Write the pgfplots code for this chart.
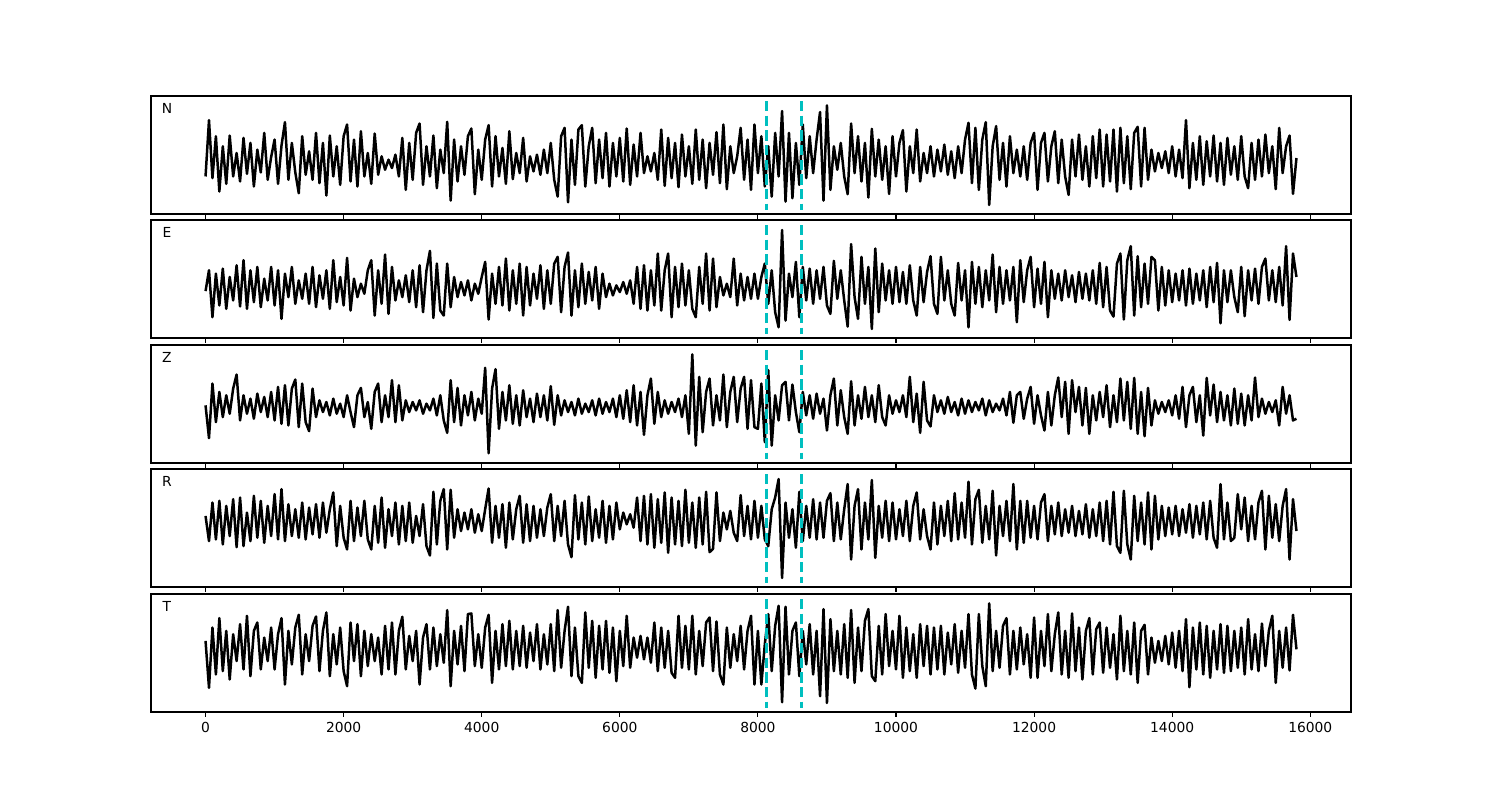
\documentclass[border=0pt]{standalone}
\usepackage{fontspec}
\setmainfont{DejaVu Sans}
\usepackage{pgfplots}
\pgfplotsset{compat=1.18}
\definecolor{mplcyan}{rgb}{0,0.75,0.75}
\pgfplotsset{
 panel/.style={scale only axis, width=12in, height=1.18in, anchor=north west,
  xmin=-790, xmax=16590, ymin=0, ymax=352, y dir=reverse,
  ytick=\empty, xtick={0,2000,4000,6000,8000,10000,12000,14000,16000},
  xtick pos=left, xticklabel pos=left, tick align=outside,
  major tick length=3.5pt,
  every tick/.style={black, line width=0.8pt},
  axis line style={line width=0.8pt},
  scaled x ticks=false,
  /pgf/number format/assume math mode=true,
  /pgf/number format/set thousands separator={},
  clip=true},
 trace/.style={black, line width=1.8pt, line join=round, mark=none},
 vl/.style={mplcyan, line width=2pt, dash pattern=on 7.4pt off 3.2pt, mark=none},
}
\begin{document}
\begin{tikzpicture}
\useasboundingbox (0,0) rectangle (15in,-8in);
% ---------------- N ----------------
\begin{axis}[panel, at={(1.51in,-0.96in)}, xticklabel=\empty]
\addplot[trace] coordinates {
(0,240)(50,72)(100,245)(150,120)(200,285)(250,150)(300,262)(350,118)(400,240)(450,170)(500,255)(550,125)(600,232)(650,140)(700,270)(750,160)(800,228)(850,110)(900,250)(950,182)
(1000,130)(1050,262)(1100,148)(1150,78)(1200,250)(1250,140)(1300,228)(1350,290)(1400,120)(1450,235)(1500,165)(1550,250)(1600,110)(1650,260)(1700,140)(1750,297)(1800,118)(1850,240)(1900,150)(1950,265)
(2000,120)(2050,85)(2100,255)(2150,130)(2200,270)(2250,105)(2300,240)(2350,170)(2400,262)(2450,112)(2500,235)(2550,180)(2600,220)(2650,190)(2700,215)(2750,175)(2800,240)(2850,125)(2900,280)(2950,140)
(3000,250)(3050,110)(3100,82)(3150,265)(3200,150)(3250,240)(3300,118)(3350,275)(3400,160)(3450,230)(3500,77)(3550,312)(3600,130)(3650,255)(3700,150)(3750,235)(3800,120)(3850,97)(3900,293)(3950,160)
(4000,250)(4050,130)(4100,87)(4150,270)(4200,120)(4250,240)(4300,155)(4350,262)(4400,105)(4450,248)(4500,170)(4550,230)(4600,125)(4650,255)(4700,180)(4750,225)(4800,175)(4850,235)(4900,160)(4950,230)
(5000,140)(5050,250)(5100,300)(5150,120)(5200,95)(5250,317)(5300,130)(5350,265)(5400,100)(5450,87)(5500,270)(5550,150)(5600,95)(5650,260)(5700,130)(5750,245)(5800,110)(5850,270)(5900,140)(5950,240)
(6000,125)(6050,255)(6100,97)(6150,265)(6200,145)(6250,240)(6300,110)(6350,230)(6400,180)(6450,225)(6500,170)(6550,250)(6600,100)(6650,268)(6700,125)(6750,245)(6800,140)(6850,272)(6900,115)(6950,240)
(7000,150)(7050,262)(7100,100)(7150,250)(7200,130)(7250,275)(7300,140)(7350,235)(7400,108)(7450,260)(7500,85)(7550,278)(7600,150)(7650,230)(7700,180)(7750,95)(7800,250)(7850,130)(7900,280)(7950,85)
(8000,230)(8050,120)(8100,270)(8150,150)(8200,300)(8250,110)(8300,240)(8350,45)(8400,315)(8450,110)(8500,305)(8550,140)(8600,265)(8650,85)(8700,245)(8750,120)(8800,230)(8850,130)(8900,48)(8950,312)
(9000,28)(9050,280)(9100,150)(9150,220)(9200,140)(9250,240)(9300,293)(9350,82)(9400,230)(9450,120)(9500,255)(9550,140)(9600,303)(9650,98)(9700,240)(9750,130)(9800,250)(9850,150)(9900,292)(9950,120)
(10000,240)(10050,140)(10100,102)(10150,285)(10200,150)(10250,230)(10300,100)(10350,255)(10400,170)(10450,230)(10500,150)(10550,240)(10600,160)(10650,225)(10700,145)(10750,235)(10800,165)(10850,245)(10900,150)(10950,230)
(11000,130)(11050,80)(11100,260)(11150,95)(11200,280)(11250,130)(11300,78)(11350,325)(11400,150)(11450,90)(11500,250)(11550,140)(11600,270)(11650,120)(11700,230)(11750,160)(11800,240)(11850,150)(11900,250)(11950,140)
(12000,110)(12050,280)(12100,140)(12150,110)(12200,255)(12250,150)(12300,105)(12350,260)(12400,130)(12450,240)(12500,295)(12550,130)(12600,240)(12650,115)(12700,250)(12750,150)(12800,270)(12850,120)(12900,245)(12950,100)
(13000,270)(13050,115)(13100,255)(13150,100)(13200,285)(13250,95)(13300,260)(13350,120)(13400,278)(13450,110)(13500,92)(13550,270)(13600,95)(13650,250)(13700,160)(13750,225)(13800,170)(13850,215)(13900,165)(13950,230)
(14000,150)(14050,240)(14100,160)(14150,245)(14200,72)(14250,275)(14300,140)(14350,250)(14400,120)(14450,265)(14500,135)(14550,240)(14600,118)(14650,255)(14700,140)(14750,265)(14800,125)(14850,235)(14900,150)(14950,250)
(15000,120)(15050,240)(15100,275)(15150,140)(15200,250)(15250,130)(15300,240)(15350,115)(15400,230)(15450,150)(15500,278)(15550,95)(15600,230)(15650,150)(15700,118)(15750,292)(15800,185)
};
\addplot[vl] coordinates {(8125,15)(8125,340)};
\addplot[vl] coordinates {(8635,15)(8635,340)};
\node at (axis description cs:0.0133,0.898) {N};
\end{axis}
% ---------------- E ----------------
\begin{axis}[panel, at={(1.51in,-2.20in)}, xticklabel=\empty]
\addplot[trace] coordinates {
(0,212)(50,150)(100,290)(150,160)(200,255)(250,145)(300,265)(350,170)(400,240)(450,135)(500,258)(550,120)(600,265)(650,150)(700,245)(750,140)(800,260)(850,175)(900,240)(950,140)
(1000,255)(1050,150)(1100,295)(1150,160)(1200,230)(1250,140)(1300,250)(1350,180)(1400,235)(1450,160)(1500,250)(1550,140)(1600,260)(1650,165)(1700,235)(1750,150)(1800,265)(1850,120)(1900,245)(1950,170)
(2000,255)(2050,113)(2100,270)(2150,175)(2200,230)(2250,190)(2300,220)(2350,150)(2400,120)(2450,285)(2500,150)(2550,250)(2600,103)(2650,280)(2700,140)(2750,240)(2800,180)(2850,230)(2900,165)(2950,245)
(3000,150)(3050,260)(3100,135)(3150,275)(3200,150)(3250,92)(3300,292)(3350,130)(3400,270)(3450,285)(3500,130)(3550,260)(3600,170)(3650,230)(3700,185)(3750,225)(3800,180)(3850,240)(3900,190)(3950,220)
(4000,170)(4050,125)(4100,297)(4150,160)(4200,250)(4250,140)(4300,255)(4350,115)(4400,270)(4450,150)(4500,250)(4550,130)(4600,285)(4650,140)(4700,255)(4750,160)(4800,235)(4850,135)(4900,265)(4950,150)
(5000,250)(5050,130)(5100,110)(5150,275)(5200,140)(5250,97)(5300,285)(5350,150)(5400,260)(5450,130)(5500,250)(5550,155)(5600,240)(5650,140)(5700,265)(5750,160)(5800,230)(5850,190)(5900,225)(5950,195)
(6000,215)(6050,185)(6100,220)(6150,180)(6200,250)(6250,140)(6300,265)(6350,135)(6400,270)(6450,150)(6500,255)(6550,100)(6600,270)(6650,150)(6700,100)(6750,290)(6800,140)(6850,260)(6900,130)(6950,255)
(7000,150)(7050,265)(7100,290)(7150,140)(7200,250)(7250,100)(7300,270)(7350,115)(7400,260)(7450,170)(7500,225)(7550,190)(7600,230)(7650,115)(7700,255)(7750,160)(7800,240)(7850,170)(7900,235)(7950,160)
(8000,235)(8050,170)(8100,130)(8150,250)(8200,150)(8250,275)(8300,320)(8350,30)(8400,300)(8450,160)(8500,230)(8550,125)(8600,290)(8650,140)(8700,240)(8750,145)(8800,250)(8850,150)(8900,235)(8950,140)
(9000,255)(9050,280)(9100,122)(9150,235)(9200,150)(9250,240)(9300,318)(9350,72)(9400,230)(9450,295)(9500,110)(9550,250)(9600,140)(9650,325)(9700,85)(9750,275)(9800,130)(9850,240)(9900,150)(9950,250)
(10000,140)(10050,245)(10100,155)(10150,250)(10200,135)(10250,240)(10300,285)(10350,140)(10400,245)(10450,155)(10500,108)(10550,250)(10600,280)(10650,110)(10700,240)(10750,150)(10800,250)(10850,285)(10900,128)(10950,240)
(11000,150)(11050,320)(11100,125)(11150,250)(11200,140)(11250,260)(11300,150)(11350,240)(11400,103)(11450,275)(11500,140)(11550,250)(11600,150)(11650,240)(11700,140)(11750,305)(11800,120)(11850,245)(11900,150)(11950,110)
(12000,260)(12050,145)(12100,250)(12150,125)(12200,290)(12250,150)(12300,235)(12350,160)(12400,240)(12450,150)(12500,230)(12550,165)(12600,245)(12650,155)(12700,235)(12750,160)(12800,240)(12850,150)(12900,250)(12950,128)
(13000,260)(13050,140)(13100,270)(13150,288)(13200,130)(13250,100)(13300,297)(13350,120)(13400,78)(13450,285)(13500,108)(13550,260)(13600,130)(13650,250)(13700,110)(13750,120)(13800,270)(13850,140)(13900,255)(13950,150)
(14000,245)(14050,160)(14100,240)(14150,150)(14200,255)(14250,145)(14300,250)(14350,160)(14400,240)(14450,150)(14500,260)(14550,140)(14600,245)(14650,128)(14700,308)(14750,150)(14800,245)(14850,150)(14900,230)(14950,275)
(15000,140)(15050,287)(15100,150)(15150,240)(15200,145)(15250,250)(15300,140)(15350,115)(15400,240)(15450,150)(15500,245)(15550,140)(15600,255)(15650,78)(15700,298)(15750,100)(15800,170)
};
\addplot[vl] coordinates {(8125,15)(8125,340)};
\addplot[vl] coordinates {(8635,15)(8635,340)};
\node at (axis description cs:0.0133,0.898) {E};
\end{axis}
% ---------------- Z ----------------
\begin{axis}[panel, at={(1.51in,-3.45in)}, xticklabel=\empty]
\addplot[trace] coordinates {
(0,180)(50,278)(100,115)(150,230)(200,140)(250,215)(300,150)(350,205)(400,130)(450,88)(500,225)(550,150)(600,205)(650,160)(700,220)(750,145)(800,200)(850,155)(900,215)(950,140)
(1000,225)(1050,125)(1100,235)(1150,120)(1200,240)(1250,130)(1300,103)(1350,245)(1400,115)(1450,230)(1500,257)(1550,130)(1600,215)(1650,165)(1700,200)(1750,170)(1800,210)(1850,160)(1900,205)(1950,175)
(2000,215)(2050,150)(2100,200)(2150,245)(2200,150)(2250,128)(2300,215)(2350,170)(2400,250)(2450,140)(2500,115)(2550,230)(2600,150)(2650,215)(2700,105)(2750,230)(2800,120)(2850,225)(2900,165)(2950,200)
(3000,170)(3050,195)(3100,165)(3150,205)(3200,175)(3250,195)(3300,160)(3350,210)(3400,150)(3450,225)(3500,262)(3550,105)(3600,230)(3650,128)(3700,240)(3750,150)(3800,210)(3850,140)(3900,225)(3950,160)
(4000,205)(4050,68)(4100,323)(4150,130)(4200,72)(4250,250)(4300,140)(4350,225)(4400,120)(4450,235)(4500,150)(4550,240)(4600,135)(4650,215)(4700,160)(4750,230)(4800,145)(4850,215)(4900,150)(4950,225)
(5000,123)(5050,238)(5100,150)(5150,210)(5200,165)(5250,200)(5300,170)(5350,210)(5400,160)(5450,205)(5500,175)(5550,200)(5600,165)(5650,210)(5700,160)(5750,205)(5800,170)(5850,200)(5900,160)(5950,215)
(6000,150)(6050,220)(6100,135)(6150,230)(6200,120)(6250,240)(6300,140)(6350,268)(6400,150)(6450,100)(6500,235)(6550,140)(6600,215)(6650,165)(6700,205)(6750,170)(6800,200)(6850,160)(6900,215)(6950,150)
(7000,265)(7050,28)(7100,300)(7150,95)(7200,260)(7250,140)(7300,100)(7350,240)(7400,150)(7450,225)(7500,88)(7550,245)(7600,140)(7650,95)(7700,230)(7750,130)(7800,95)(7850,250)(7900,105)(7950,245)
(8000,250)(8050,115)(8100,290)(8150,75)(8200,300)(8250,150)(8300,225)(8350,120)(8400,110)(8450,225)(8500,118)(8550,200)(8600,260)(8650,140)(8700,210)(8750,150)(8800,220)(8850,145)(8900,205)(8950,160)
(9000,255)(9050,150)(9100,100)(9150,240)(9200,135)(9250,215)(9300,265)(9350,108)(9400,240)(9450,150)(9500,220)(9550,125)(9600,215)(9650,150)(9700,230)(9750,120)(9800,215)(9850,240)(9900,150)(9950,205)
(10000,165)(10050,200)(10100,150)(10150,215)(10200,95)(10250,230)(10300,145)(10350,262)(10400,110)(10450,225)(10500,243)(10550,150)(10600,200)(10650,165)(10700,205)(10750,155)(10800,200)(10850,170)(10900,210)(10950,160)
(11000,205)(11050,165)(11100,200)(11150,170)(11200,195)(11250,160)(11300,210)(11350,165)(11400,200)(11450,175)(11500,195)(11550,160)(11600,210)(11650,140)(11700,232)(11750,150)(11800,140)(11850,220)(11900,160)(11950,125)
(12000,235)(12050,150)(12100,210)(12150,255)(12200,140)(12250,240)(12300,150)(12350,97)(12400,215)(12450,110)(12500,265)(12550,105)(12600,200)(12650,125)(12700,240)(12750,128)(12800,265)(12850,150)(12900,225)(12950,140)
(13000,215)(13050,120)(13100,245)(13150,150)(13200,230)(13250,100)(13300,225)(13350,110)(13400,250)(13450,98)(13500,265)(13550,140)(13600,272)(13650,128)(13700,240)(13750,165)(13800,205)(13850,170)(13900,200)(13950,165)
(14000,210)(14050,150)(14100,220)(14150,125)(14200,245)(14250,150)(14300,125)(14350,230)(14400,150)(14450,270)(14500,98)(14550,210)(14600,118)(14650,230)(14700,140)(14750,225)(14800,150)(14850,240)(14900,130)(14950,235)
(15000,145)(15050,240)(15100,150)(15150,225)(15200,97)(15250,215)(15300,160)(15350,205)(15400,170)(15450,200)(15500,165)(15550,240)(15600,125)(15650,205)(15700,150)(15750,225)(15800,220)
};
\addplot[vl] coordinates {(8125,15)(8125,340)};
\addplot[vl] coordinates {(8635,15)(8635,340)};
\node at (axis description cs:0.0133,0.898) {Z};
\end{axis}
% ---------------- R ----------------
\begin{axis}[panel, at={(1.51in,-4.69in)}, xticklabel=\empty]
\addplot[trace] coordinates {
(0,140)(50,215)(100,100)(150,210)(200,95)(250,225)(300,110)(350,200)(400,90)(450,233)(500,85)(550,230)(600,130)(650,215)(700,80)(750,205)(800,95)(850,220)(900,110)(950,200)
(1000,75)(1050,210)(1100,60)(1150,215)(1200,105)(1250,200)(1300,120)(1350,205)(1400,100)(1450,210)(1500,115)(1550,195)(1600,105)(1650,205)(1700,100)(1750,190)(1800,120)(1850,70)(1900,230)(1950,110)
(2000,205)(2050,240)(2100,95)(2150,215)(2200,115)(2250,200)(2300,95)(2350,210)(2400,240)(2450,110)(2500,220)(2550,85)(2600,235)(2650,120)(2700,200)(2750,100)(2800,225)(2850,110)(2900,215)(2950,100)
(3000,220)(3050,140)(3100,200)(3150,105)(3200,230)(3250,258)(3300,68)(3350,225)(3400,95)(3450,60)(3500,240)(3550,62)(3600,205)(3650,120)(3700,185)(3750,130)(3800,180)(3850,120)(3900,190)(3950,135)
(4000,185)(4050,120)(4100,58)(4150,220)(4200,110)(4250,205)(4300,105)(4350,235)(4400,100)(4450,210)(4500,120)(4550,80)(4600,220)(4650,105)(4700,215)(4750,110)(4800,205)(4850,120)(4900,200)(4950,115)
(5000,75)(5050,215)(5100,110)(5150,200)(5200,95)(5250,225)(5300,263)(5350,78)(5400,210)(5450,100)(5500,225)(5550,82)(5600,215)(5650,120)(5700,205)(5750,95)(5800,220)(5850,110)(5900,210)(5950,100)
(6000,180)(6050,130)(6100,165)(6150,135)(6200,175)(6250,85)(6300,215)(6350,80)(6400,225)(6450,75)(6500,235)(6550,90)(6600,220)(6650,70)(6700,250)(6750,85)(6800,225)(6850,95)(6900,230)(6950,62)
(7000,220)(7050,100)(7100,235)(7150,85)(7200,225)(7250,68)(7300,248)(7350,238)(7400,70)(7450,215)(7500,130)(7550,180)(7600,125)(7650,190)(7700,215)(7750,78)(7800,200)(7850,110)(7900,210)(7950,95)
(8000,205)(8050,110)(8100,210)(8150,230)(8200,120)(8250,85)(8300,30)(8350,325)(8400,100)(8450,205)(8500,120)(8550,235)(8600,68)(8650,215)(8700,110)(8750,205)(8800,90)(8850,210)(8900,100)(8950,205)
(9000,95)(9050,72)(9100,215)(9150,100)(9200,210)(9250,120)(9300,45)(9350,270)(9400,110)(9450,60)(9500,240)(9550,100)(9600,210)(9650,33)(9700,265)(9750,110)(9800,205)(9850,95)(9900,215)(9950,100)
(10000,210)(10050,120)(10100,200)(10150,95)(10200,215)(10250,110)(10300,70)(10350,210)(10400,120)(10450,200)(10500,240)(10550,100)(10600,225)(10650,110)(10700,200)(10750,95)(10800,215)(10850,72)(10900,210)(10950,100)
(11000,205)(11050,38)(11100,225)(11150,90)(11200,62)(11250,220)(11300,110)(11350,210)(11400,65)(11450,258)(11500,110)(11550,200)(11600,95)(11650,215)(11700,45)(11750,240)(11800,95)(11850,220)(11900,95)(11950,205)
(12000,110)(12050,210)(12100,100)(12150,75)(12200,215)(12250,110)(12300,195)(12350,100)(12400,200)(12450,120)(12500,190)(12550,110)(12600,200)(12650,125)(12700,195)(12750,105)(12800,205)(12850,120)(12900,200)(12950,100)
(13000,215)(13050,95)(13100,225)(13150,68)(13200,230)(13250,250)(13300,65)(13350,225)(13400,270)(13450,80)(13500,215)(13550,100)(13600,225)(13650,70)(13700,240)(13750,80)(13800,210)(13850,110)(13900,200)(13950,115)
(14000,195)(14050,110)(14100,200)(14150,120)(14200,190)(14250,105)(14300,205)(14350,110)(14400,195)(14450,100)(14500,210)(14550,95)(14600,205)(14650,235)(14700,45)(14750,210)(14800,100)(14850,215)(14900,205)(14950,75)
(15000,180)(15050,85)(15100,215)(15150,110)(15200,210)(15250,100)(15300,65)(15350,240)(15400,80)(15450,205)(15500,105)(15550,215)(15600,110)(15650,60)(15700,270)(15750,90)(15800,185)
};
\addplot[vl] coordinates {(8125,15)(8125,340)};
\addplot[vl] coordinates {(8635,15)(8635,340)};
\node at (axis description cs:0.0133,0.898) {R};
\end{axis}
% ---------------- T ----------------
\begin{axis}[panel, at={(1.51in,-5.94in)}]
\addplot[trace] coordinates {
(0,140)(50,280)(100,100)(150,240)(200,72)(250,230)(300,110)(350,255)(400,120)(450,200)(500,90)(550,225)(600,65)(650,245)(700,110)(750,85)(800,225)(850,130)(900,200)(950,100)
(1000,225)(1050,120)(1100,72)(1150,270)(1200,110)(1250,210)(1300,100)(1350,62)(1400,240)(1450,120)(1500,200)(1550,95)(1600,67)(1650,230)(1700,110)(1750,55)(1800,245)(1850,120)(1900,210)(1950,100)
(2000,230)(2050,275)(2100,85)(2150,200)(2200,90)(2250,245)(2300,110)(2350,215)(2400,120)(2450,200)(2500,130)(2550,240)(2600,95)(2650,225)(2700,85)(2750,240)(2800,110)(2850,68)(2900,225)(2950,125)
(3000,200)(3050,110)(3100,270)(3150,130)(3200,90)(3250,225)(3300,100)(3350,215)(3400,120)(3450,205)(3500,48)(3550,275)(3600,110)(3650,210)(3700,95)(3750,230)(3800,60)(3850,58)(3900,215)(3950,120)
(4000,220)(4050,100)(4100,62)(4150,265)(4200,110)(4250,225)(4300,90)(4350,215)(4400,80)(4450,225)(4500,110)(4550,215)(4600,95)(4650,220)(4700,115)(4750,200)(4800,90)(4850,225)(4900,120)(4950,210)
(5000,90)(5050,230)(5100,48)(5150,220)(5200,110)(5250,38)(5300,245)(5350,100)(5400,245)(5450,265)(5500,55)(5550,220)(5600,80)(5650,250)(5700,95)(5750,225)(5800,80)(5850,235)(5900,100)(5950,260)
(6000,110)(6050,215)(6100,65)(6150,220)(6200,130)(6250,190)(6300,125)(6350,195)(6400,130)(6450,205)(6500,85)(6550,230)(6600,100)(6650,220)(6700,110)(6750,235)(6800,250)(6850,65)(6900,220)(6950,95)
(7000,225)(7050,65)(7100,240)(7150,110)(7200,215)(7250,85)(7300,70)(7350,230)(7400,82)(7450,240)(7500,270)(7550,100)(7600,220)(7650,120)(7700,200)(7750,95)(7800,225)(7850,110)(7900,65)(7950,270)
(8000,110)(8050,270)(8100,150)(8150,60)(8200,230)(8250,95)(8300,35)(8350,323)(8400,38)(8450,240)(8500,110)(8550,85)(8600,245)(8650,110)(8700,210)(8750,90)(8800,240)(8850,110)(8900,305)(8950,45)
(9000,325)(9050,75)(9100,230)(9150,110)(9200,240)(9250,90)(9300,250)(9350,48)(9400,265)(9450,100)(9500,230)(9550,80)(9600,45)(9650,245)(9700,260)(9750,95)(9800,240)(9850,60)(9900,215)(9950,110)
(10000,225)(10050,65)(10100,250)(10150,100)(10200,230)(10250,120)(10300,250)(10350,90)(10400,215)(10450,95)(10500,240)(10550,100)(10600,225)(10650,95)(10700,240)(10750,115)(10800,210)(10850,90)(10900,235)(10950,110)
(11000,220)(11050,60)(11100,240)(11150,282)(11200,60)(11250,215)(11300,275)(11350,28)(11400,230)(11450,110)(11500,220)(11550,95)(11600,72)(11650,240)(11700,110)(11750,225)(11800,100)(11850,210)(11900,120)(11950,250)
(12000,70)(12050,250)(12100,110)(12150,215)(12200,60)(12250,230)(12300,120)(12350,55)(12400,240)(12450,110)(12500,250)(12550,58)(12600,230)(12650,100)(12700,255)(12750,110)(12800,72)(12850,240)(12900,105)(12950,85)
(13000,235)(13050,100)(13100,220)(13150,120)(13200,255)(13250,65)(13300,230)(13350,110)(13400,240)(13450,85)(13500,265)(13550,110)(13600,92)(13650,240)(13700,130)(13750,205)(13800,140)(13850,200)(13900,125)(13950,210)
(14000,115)(14050,220)(14100,110)(14150,230)(14200,75)(14250,278)(14300,100)(14350,225)(14400,85)(14450,240)(14500,95)(14550,250)(14600,110)(14650,225)(14700,90)(14750,235)(14800,95)(14850,230)(14900,110)(14950,220)
(15000,100)(15050,240)(15100,75)(15150,225)(15200,120)(15250,230)(15300,88)(15350,215)(15400,110)(15450,65)(15500,265)(15550,110)(15600,220)(15650,100)(15700,228)(15750,62)(15800,165)
};
\addplot[vl] coordinates {(8125,15)(8125,340)};
\addplot[vl] coordinates {(8635,15)(8635,340)};
\node at (axis description cs:0.0133,0.898) {T};
\end{axis}
\end{tikzpicture}
\end{document}
